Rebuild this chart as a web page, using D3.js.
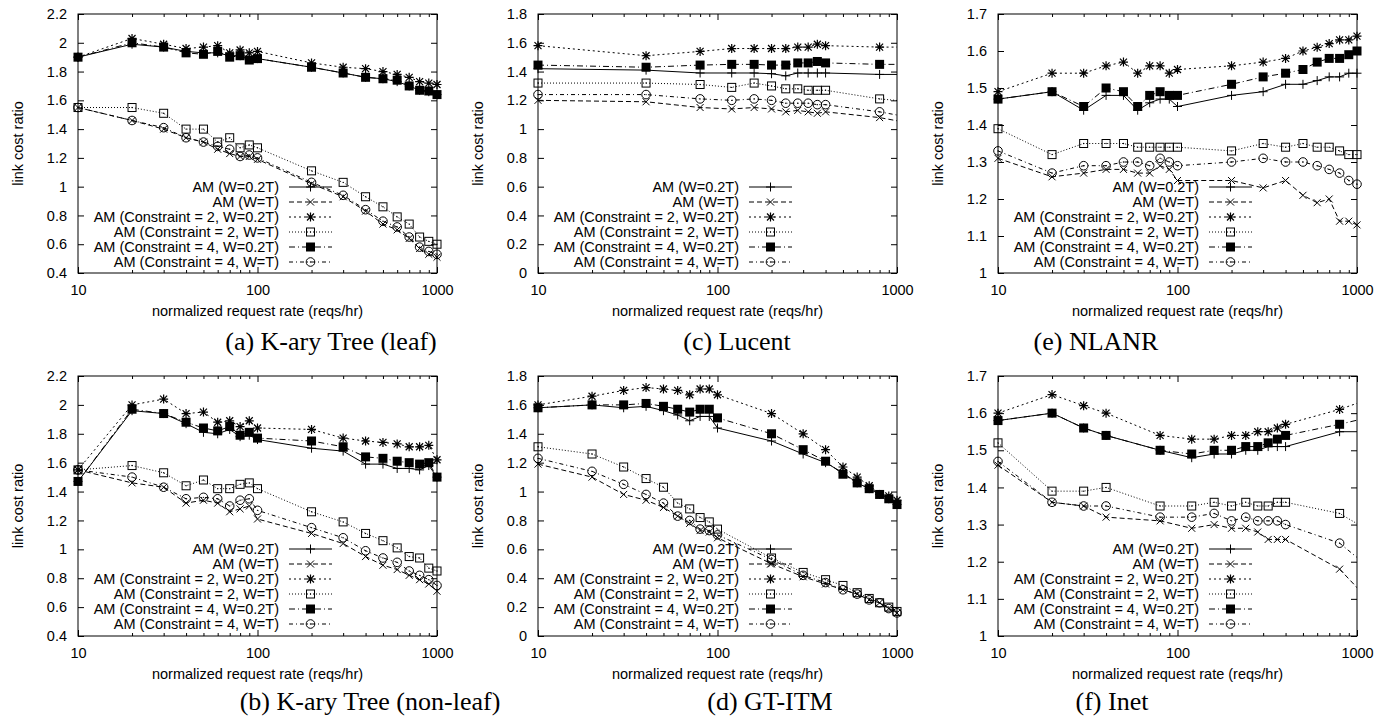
<!DOCTYPE html>
<html>
<head>
<meta charset="utf-8">
<script src="https://cdn.jsdelivr.net/npm/d3@7"></script>
<style>
body { margin: 0; background: #fff; }
svg text { font-family: "Liberation Sans", Arial, Helvetica, sans-serif; fill: #000; }
svg text.caption { font-family: "Liberation Serif", "Times New Roman", serif; }
</style>
</head>
<body>
<svg width="1385" height="719"></svg>
<script>
// Названия рядов (одинаковые во всех шести графиках)
const seriesNames = [
    "AM (W=0.2T)",
    "AM (W=T)",
    "AM (Constraint = 2, W=0.2T)",
    "AM (Constraint = 2, W=T)",
    "AM (Constraint = 4, W=0.2T)",
    "AM (Constraint = 4, W=T)"
];

// Значения по оси X
const xRates = [10, 20, 30, 40, 50, 60, 70, 80, 90, 100, 200, 300, 400, 500, 600, 700, 800, 900, 1000];
const xLucent = [10, 40, 80, 120, 160, 200, 240, 280, 320, 360, 400, 800, 1200];
const xInet = [10, 20, 30, 40, 80, 120, 160, 200, 240, 280, 320, 360, 400, 800, 1200];

// (a) K-ary Tree (leaf)
const leafW02   = [1.90, 1.99, 1.97, 1.94, 1.93, 1.93, 1.91, 1.91, 1.89, 1.89, 1.83, 1.79, 1.76, 1.75, 1.73, 1.70, 1.67, 1.66, 1.64];
const leafWT    = [1.55, 1.46, 1.40, 1.34, 1.31, 1.26, 1.23, 1.21, 1.21, 1.19, 1.02, 0.93, 0.83, 0.74, 0.70, 0.64, 0.57, 0.53, 0.51];
const leafC2W02 = [1.90, 2.03, 1.99, 1.96, 1.97, 1.98, 1.93, 1.95, 1.93, 1.94, 1.86, 1.83, 1.82, 1.80, 1.78, 1.76, 1.73, 1.72, 1.71];
const leafC2WT  = [1.55, 1.55, 1.51, 1.40, 1.40, 1.31, 1.34, 1.27, 1.29, 1.27, 1.11, 1.03, 0.93, 0.86, 0.79, 0.74, 0.65, 0.62, 0.60];
const leafC4W02 = [1.90, 2.00, 1.97, 1.93, 1.92, 1.94, 1.90, 1.91, 1.88, 1.89, 1.83, 1.79, 1.76, 1.75, 1.74, 1.70, 1.67, 1.665, 1.64];
const leafC4WT  = [1.55, 1.46, 1.41, 1.34, 1.31, 1.28, 1.26, 1.21, 1.22, 1.20, 1.03, 0.94, 0.84, 0.76, 0.72, 0.65, 0.58, 0.55, 0.53];

// (c) Lucent
const lucentW02   = [1.42, 1.41, 1.39, 1.39, 1.39, 1.385, 1.37, 1.39, 1.39, 1.39, 1.39, 1.38, 1.38];
const lucentWT    = [1.20, 1.19, 1.15, 1.14, 1.15, 1.14, 1.12, 1.13, 1.12, 1.11, 1.12, 1.08, 1.04];
const lucentC2W02 = [1.58, 1.51, 1.54, 1.56, 1.56, 1.56, 1.56, 1.57, 1.57, 1.59, 1.58, 1.57, 1.57];
const lucentC2WT  = [1.32, 1.32, 1.31, 1.29, 1.32, 1.30, 1.28, 1.28, 1.27, 1.27, 1.27, 1.21, 1.19];
const lucentC4W02 = [1.445, 1.43, 1.445, 1.45, 1.45, 1.445, 1.445, 1.46, 1.46, 1.47, 1.46, 1.45, 1.45];
const lucentC4WT  = [1.24, 1.24, 1.21, 1.20, 1.21, 1.20, 1.18, 1.18, 1.18, 1.17, 1.17, 1.12, 1.08];

// (e) NLANR
const nlanrW02   = [1.47, 1.49, 1.44, 1.48, 1.48, 1.44, 1.46, 1.47, 1.47, 1.45, 1.48, 1.49, 1.51, 1.51, 1.52, 1.53, 1.53, 1.54, 1.54];
const nlanrWT    = [1.31, 1.26, 1.27, 1.28, 1.28, 1.27, 1.27, 1.29, 1.28, 1.25, 1.25, 1.23, 1.25, 1.21, 1.19, 1.20, 1.14, 1.14, 1.13];
const nlanrC2W02 = [1.49, 1.54, 1.54, 1.56, 1.57, 1.54, 1.56, 1.56, 1.54, 1.55, 1.56, 1.57, 1.58, 1.60, 1.61, 1.62, 1.63, 1.63, 1.64];
const nlanrC2WT  = [1.39, 1.32, 1.35, 1.35, 1.35, 1.34, 1.34, 1.34, 1.34, 1.34, 1.33, 1.35, 1.34, 1.35, 1.34, 1.34, 1.33, 1.32, 1.32];
const nlanrC4W02 = [1.47, 1.49, 1.45, 1.50, 1.49, 1.45, 1.48, 1.49, 1.48, 1.48, 1.51, 1.53, 1.54, 1.55, 1.57, 1.58, 1.58, 1.59, 1.60];
const nlanrC4WT  = [1.33, 1.27, 1.29, 1.29, 1.30, 1.30, 1.29, 1.31, 1.30, 1.29, 1.30, 1.31, 1.30, 1.30, 1.29, 1.28, 1.27, 1.25, 1.24];

// (b) K-ary Tree (non-leaf)
const nonLeafW02   = [1.47, 1.96, 1.94, 1.87, 1.81, 1.80, 1.83, 1.78, 1.79, 1.76, 1.70, 1.68, 1.59, 1.59, 1.56, 1.56, 1.55, 1.58, 1.50];
const nonLeafWT    = [1.55, 1.46, 1.43, 1.32, 1.34, 1.32, 1.26, 1.28, 1.30, 1.21, 1.11, 1.04, 0.95, 0.89, 0.86, 0.82, 0.79, 0.76, 0.71];
const nonLeafC2W02 = [1.55, 2.00, 2.04, 1.94, 1.95, 1.88, 1.89, 1.85, 1.89, 1.84, 1.83, 1.77, 1.75, 1.74, 1.73, 1.71, 1.71, 1.72, 1.62];
const nonLeafC2WT  = [1.55, 1.58, 1.53, 1.44, 1.48, 1.42, 1.42, 1.45, 1.46, 1.42, 1.26, 1.19, 1.11, 1.06, 1.01, 0.95, 0.94, 0.87, 0.85];
const nonLeafC4W02 = [1.47, 1.97, 1.94, 1.88, 1.84, 1.82, 1.85, 1.79, 1.81, 1.77, 1.75, 1.71, 1.64, 1.63, 1.61, 1.60, 1.59, 1.60, 1.50];
const nonLeafC4WT  = [1.55, 1.50, 1.43, 1.35, 1.36, 1.35, 1.30, 1.34, 1.35, 1.27, 1.15, 1.08, 0.99, 0.94, 0.91, 0.85, 0.82, 0.79, 0.75];

// (d) GT-ITM
const gtitmW02   = [1.58, 1.60, 1.58, 1.59, 1.56, 1.53, 1.49, 1.52, 1.52, 1.44, 1.35, 1.26, 1.20, 1.13, 1.06, 1.02, 0.98, 0.95, 0.91];
const gtitmWT    = [1.19, 1.10, 0.98, 0.94, 0.89, 0.83, 0.78, 0.73, 0.72, 0.68, 0.50, 0.41, 0.36, 0.32, 0.29, 0.25, 0.23, 0.19, 0.16];
const gtitmC2W02 = [1.60, 1.66, 1.70, 1.72, 1.71, 1.70, 1.67, 1.71, 1.71, 1.67, 1.54, 1.40, 1.29, 1.17, 1.10, 1.04, 0.98, 0.97, 0.94];
const gtitmC2WT  = [1.31, 1.26, 1.17, 1.09, 1.03, 0.92, 0.88, 0.82, 0.79, 0.74, 0.54, 0.44, 0.39, 0.35, 0.30, 0.26, 0.23, 0.20, 0.17];
const gtitmC4W02 = [1.58, 1.60, 1.60, 1.61, 1.59, 1.57, 1.55, 1.57, 1.57, 1.51, 1.40, 1.29, 1.21, 1.12, 1.06, 1.02, 0.98, 0.95, 0.91];
const gtitmC4WT  = [1.23, 1.14, 1.05, 0.98, 0.92, 0.83, 0.80, 0.74, 0.73, 0.70, 0.53, 0.42, 0.37, 0.32, 0.29, 0.25, 0.23, 0.19, 0.16];

// (f) Inet
const inetW02   = [1.58, 1.60, 1.56, 1.54, 1.50, 1.48, 1.49, 1.49, 1.50, 1.50, 1.51, 1.51, 1.51, 1.55, 1.55];
const inetWT    = [1.46, 1.36, 1.35, 1.32, 1.31, 1.29, 1.30, 1.29, 1.29, 1.28, 1.26, 1.26, 1.26, 1.18, 1.09];
const inetC2W02 = [1.60, 1.65, 1.62, 1.60, 1.54, 1.53, 1.53, 1.54, 1.54, 1.55, 1.55, 1.56, 1.57, 1.61, 1.64];
const inetC2WT  = [1.52, 1.39, 1.39, 1.40, 1.35, 1.35, 1.36, 1.35, 1.36, 1.35, 1.35, 1.36, 1.36, 1.33, 1.28];
const inetC4W02 = [1.58, 1.60, 1.56, 1.54, 1.50, 1.49, 1.50, 1.50, 1.51, 1.51, 1.52, 1.53, 1.54, 1.57, 1.59];
const inetC4WT  = [1.47, 1.36, 1.35, 1.35, 1.32, 1.32, 1.33, 1.31, 1.32, 1.31, 1.31, 1.31, 1.30, 1.25, 1.18];

// Тики осей
const xMajorTicks = [10, 100, 1000];
const xMinorTicks = [20, 30, 40, 50, 60, 70, 80, 90, 200, 300, 400, 500, 600, 700, 800, 900];
const yTicksWide = [0.4, 0.6, 0.8, 1, 1.2, 1.4, 1.6, 1.8, 2, 2.2];
const yTicksZero = [0, 0.2, 0.4, 0.6, 0.8, 1, 1.2, 1.4, 1.6, 1.8];
const yTicksNarrow = [1, 1.1, 1.2, 1.3, 1.4, 1.5, 1.6, 1.7];

const captions = ["(a) K-ary Tree (leaf)", "(c) Lucent", "(e) NLANR",
                  "(b) K-ary Tree (non-leaf)", "(d) GT-ITM", "(f) Inet"];

// Стиль линий и маркеры (как у gnuplot)
const dashes = [null, "5,3", "2,3", "1,2", "6,3,1,3", "4,3,1,3"];
const markers = ["plus", "cross", "star", "square", "filled", "circle"];

let panels = [
    {x: xRates,  ys: [leafW02, leafWT, leafC2W02, leafC2WT, leafC4W02, leafC4WT], yTicks: yTicksWide, left: 78, top: 14, cap: 331},
    {x: xLucent, ys: [lucentW02, lucentWT, lucentC2W02, lucentC2WT, lucentC4W02, lucentC4WT], yTicks: yTicksZero, left: 538, top: 14, cap: 737},
    {x: xRates,  ys: [nlanrW02, nlanrWT, nlanrC2W02, nlanrC2WT, nlanrC4W02, nlanrC4WT], yTicks: yTicksNarrow, left: 998, top: 14, cap: 1096},
    {x: xRates,  ys: [nonLeafW02, nonLeafWT, nonLeafC2W02, nonLeafC2WT, nonLeafC4W02, nonLeafC4WT], yTicks: yTicksWide, left: 78, top: 376, cap: 370},
    {x: xRates,  ys: [gtitmW02, gtitmWT, gtitmC2W02, gtitmC2WT, gtitmC4W02, gtitmC4WT], yTicks: yTicksZero, left: 538, top: 376, cap: 770},
    {x: xInet,   ys: [inetW02, inetWT, inetC2W02, inetC2WT, inetC4W02, inetC4WT], yTicks: yTicksNarrow, left: 998, top: 376, cap: 1112}
];

const width = 359;
const height = 260;

let svg = d3.select("svg");

function drawMarker(g, type) {
    if (type == "plus") {
        g.append("path").attr("d", "M-4.5,0H4.5M0,-4.5V4.5").attr("stroke", "#000").attr("fill", "none");
    } else if (type == "cross") {
        g.append("path").attr("d", "M-3.5,-3.5L3.5,3.5M-3.5,3.5L3.5,-3.5").attr("stroke", "#000").attr("fill", "none");
    } else if (type == "star") {
        g.append("path").attr("d", "M-4.5,0H4.5M0,-4.5V4.5M-3.5,-3.5L3.5,3.5M-3.5,3.5L3.5,-3.5")
            .attr("stroke", "#000").attr("stroke-width", 1.2).attr("fill", "none");
    } else if (type == "square") {
        g.append("rect").attr("x", -4).attr("y", -4).attr("width", 8).attr("height", 8)
            .attr("fill", "#fff").attr("fill-opacity", 0).attr("stroke", "#000");
        g.append("circle").attr("r", 0.7).attr("fill", "#000");
    } else if (type == "filled") {
        g.append("rect").attr("x", -4.5).attr("y", -4.5).attr("width", 9).attr("height", 9).attr("fill", "#000");
    } else if (type == "circle") {
        g.append("circle").attr("r", 4.3).attr("fill", "none").attr("stroke", "#000");
        g.append("circle").attr("r", 0.7).attr("fill", "#000");
    }
}

panels.forEach((p, pi) => {
    let top = p.top;
    let yDomain = d3.extent(p.yTicks);

    let scaleX = d3.scaleLog().domain([10, 1000]).range([0, width]);
    let scaleY = d3.scaleLinear().domain(yDomain).range([height - (pi < 3 ? 1 : 0), 0]);
    let h = scaleY.range()[0];

    let g = svg.append("g").attr("transform", `translate(${p.left}, ${top})`);

    // ось X: подписи снизу, тики внутрь с обеих сторон
    let fmt = d => d3.format("")(+d.toFixed(1));
    g.append("g")
        .attr("transform", `translate(0, ${h})`)
        .call(d3.axisBottom(scaleX).tickValues(xMajorTicks).tickSize(-6).tickPadding(12).tickFormat(d3.format("d")))
        .call(a => a.select(".domain").remove())
        .selectAll("text").style("font-size", "14.5px");
    g.append("g")
        .attr("transform", `translate(0, ${h})`)
        .call(d3.axisBottom(scaleX).tickValues(xMinorTicks).tickSize(-3).tickFormat(""))
        .call(a => a.select(".domain").remove());
    g.append("g")
        .call(d3.axisTop(scaleX).tickValues(xMajorTicks).tickSize(-6).tickFormat(""))
        .call(a => a.select(".domain").remove());
    g.append("g")
        .call(d3.axisTop(scaleX).tickValues(xMinorTicks).tickSize(-3).tickFormat(""))
        .call(a => a.select(".domain").remove());

    // ось Y слева и справа
    g.append("g")
        .call(d3.axisLeft(scaleY).tickValues(p.yTicks).tickSize(-6).tickPadding(11).tickFormat(fmt))
        .call(a => a.select(".domain").remove())
        .selectAll("text").style("font-size", "14.5px");
    g.append("g")
        .attr("transform", `translate(${width}, 0)`)
        .call(d3.axisRight(scaleY).tickValues(p.yTicks).tickSize(-6).tickFormat(""))
        .call(a => a.select(".domain").remove());

    g.selectAll(".tick line").attr("stroke", "#000");

    // рамка
    g.append("rect").attr("width", width).attr("height", h)
        .attr("fill", "none").attr("stroke", "#000").attr("stroke-width", 1);

    // подписи осей
    g.append("text")
        .attr("x", width / 2).attr("y", h + 43)
        .attr("text-anchor", "middle").style("font-size", "14.5px")
        .text("normalized request rate (reqs/hr)");
    g.append("text")
        .attr("transform", `translate(-60, ${h / 2}) rotate(-90)`)
        .attr("text-anchor", "middle").attr("dy", "0.35em").style("font-size", "14.5px")
        .text("link cost ratio");

    // легенда
    let legend = g.selectAll(".legendRow")
        .data(seriesNames)
        .enter()
        .append("g")
        .attr("class", "legendRow")
        .attr("transform", (d, i) => `translate(0, ${173 + i * 15})`);
    legend.append("text")
        .attr("x", 201).attr("dy", "0.35em")
        .attr("text-anchor", "end").style("font-size", "14.5px")
        .text(d => d);
    legend.append("line")
        .attr("x1", 211).attr("x2", 254)
        .attr("stroke", "#000")
        .attr("stroke-dasharray", (d, i) => dashes[i]);
    legend.each(function (d, i) {
        drawMarker(d3.select(this).append("g").attr("transform", "translate(232.5, 0)"), markers[i]);
    });

    // данные
    let clipId = "clip" + pi;
    g.append("clipPath").attr("id", clipId)
        .append("rect").attr("width", width).attr("height", h);

    p.ys.forEach((vals, si) => {
        let pts = p.x.map((x, k) => [x, vals[k]]);
        let line = d3.line().x(d => scaleX(d[0])).y(d => scaleY(d[1]));
        g.append("path")
            .attr("d", line(pts))
            .attr("clip-path", `url(#${clipId})`)
            .attr("fill", "none")
            .attr("stroke", "#000")
            .attr("stroke-width", 1)
            .attr("stroke-dasharray", dashes[si]);
        pts.filter(d => d[0] <= 1000).forEach(d => {
            drawMarker(g.append("g").attr("transform", `translate(${scaleX(d[0])}, ${scaleY(d[1])})`), markers[si]);
        });
    });

    // подпись под графиком
    svg.append("text")
        .attr("class", "caption")
        .attr("x", p.cap).attr("y", pi < 3 ? 350 : 710)
        .attr("text-anchor", "middle")
        .style("font-size", "26px")
        .text(captions[pi]);
});
</script>
</body>
</html>
